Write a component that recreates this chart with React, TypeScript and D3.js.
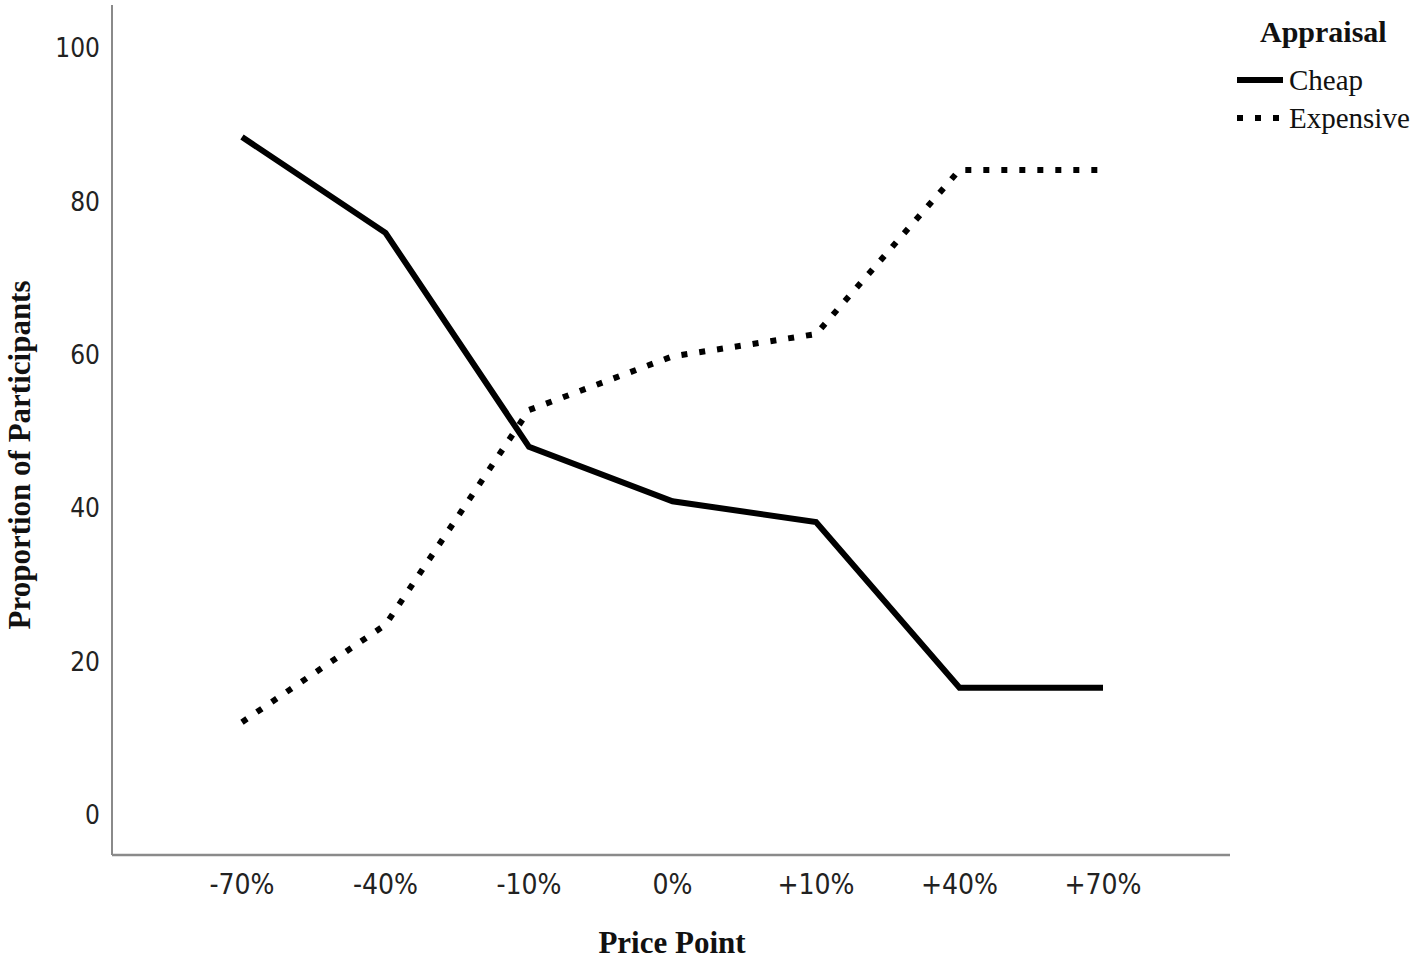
import * as d3 from "d3";
import { useEffect, useRef } from "react";

const categories = ["-70%", "-40%", "-10%", "0%", "+10%", "+40%", "+70%"];
const cheap = [88.4, 75.9, 48.0, 40.9, 38.2, 16.6, 16.6];
const expensive = [12.1, 24.8, 52.8, 59.8, 62.7, 84.1, 84.1];
const yTicks = [0, 20, 40, 60, 80, 100];

export default function App() {
    const svgRef = useRef<SVGSVGElement | null>(null);

    useEffect(() => {
        if (!svgRef.current) return;
        const svg = d3.select(svgRef.current);
        svg.selectAll("*").remove();

        const left = 112;
        const bottom = 855;
        const right = 1230;
        const top = 5;

        const x = d3.scalePoint<string>().domain(categories).range([242, 1103]);
        const y = d3.scaleLinear().domain([0, 100]).range([815, 48]);

        const tickFont = "'Liberation Sans Narrow', 'DejaVu Sans Condensed', sans-serif";
        const serif = "'Liberation Serif', 'DejaVu Serif', serif";

        // axes lines
        svg.append("line")
            .attr("x1", left).attr("x2", left)
            .attr("y1", top).attr("y2", bottom)
            .attr("stroke", "#8a8a8a").attr("stroke-width", 2);
        svg.append("line")
            .attr("x1", left).attr("x2", right)
            .attr("y1", bottom).attr("y2", bottom)
            .attr("stroke", "#8a8a8a").attr("stroke-width", 2.5);

        // y ticks
        svg.append("g")
            .selectAll("text")
            .data(yTicks)
            .join("text")
            .attr("x", 100)
            .attr("y", (d) => y(d))
            .attr("dy", "0.35em")
            .attr("text-anchor", "end")
            .attr("font-family", tickFont)
            .attr("font-size", 26)
            .attr("fill", "#222")
            .text((d) => d);

        // x ticks
        svg.append("g")
            .selectAll("text")
            .data(categories)
            .join("text")
            .attr("x", (d) => x(d)!)
            .attr("y", 894)
            .attr("text-anchor", "middle")
            .attr("font-family", tickFont)
            .attr("font-size", 28)
            .attr("fill", "#222")
            .text((d) => d);

        const line = d3.line<number>()
            .x((_, i) => x(categories[i])!)
            .y((d) => y(d));

        svg.append("path")
            .datum(cheap)
            .attr("fill", "none")
            .attr("stroke", "#000")
            .attr("stroke-width", 6)
            .attr("d", line);

        svg.append("path")
            .datum(expensive)
            .attr("fill", "none")
            .attr("stroke", "#000")
            .attr("stroke-width", 6)
            .attr("stroke-dasharray", "6,12")
            .attr("d", line);

        // axis titles
        svg.append("text")
            .attr("x", 672)
            .attr("y", 953)
            .attr("text-anchor", "middle")
            .attr("font-family", serif)
            .attr("font-weight", "bold")
            .attr("font-size", 31)
            .attr("fill", "#111")
            .text("Price Point");

        svg.append("text")
            .attr("transform", "translate(30,455) rotate(-90)")
            .attr("text-anchor", "middle")
            .attr("font-family", serif)
            .attr("font-weight", "bold")
            .attr("font-size", 31)
            .attr("fill", "#111")
            .text("Proportion of Participants");

        // legend
        const lg = svg.append("g");
        lg.append("text")
            .attr("x", 1260).attr("y", 42)
            .attr("font-family", serif)
            .attr("font-weight", "bold")
            .attr("font-size", 30)
            .attr("fill", "#111")
            .text("Appraisal");
        const items = [
            { label: "Cheap", dash: null as string | null, yy: 80 },
            { label: "Expensive", dash: "6,12", yy: 118 },
        ];
        items.forEach((it) => {
            lg.append("line")
                .attr("x1", 1237).attr("x2", 1283)
                .attr("y1", it.yy).attr("y2", it.yy)
                .attr("stroke", "#000")
                .attr("stroke-width", 6)
                .attr("stroke-dasharray", it.dash);
            lg.append("text")
                .attr("x", 1289).attr("y", it.yy)
                .attr("dy", "0.35em")
                .attr("font-family", serif)
                .attr("font-size", 29)
                .attr("fill", "#111")
                .text(it.label);
        });
    }, []);

    return (
        <svg
            ref={svgRef}
            width={1414}
            height={959}
            style={{ position: "absolute", left: 0, top: 0, background: "#fff" }}
        />
    );
}
